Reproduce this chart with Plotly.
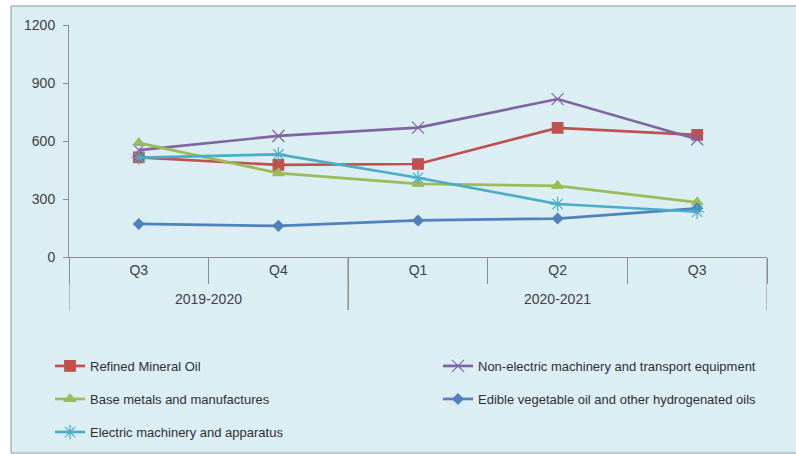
import plotly.graph_objects as go

years = ["2019-2020", "2019-2020", "2020-2021", "2020-2021", "2020-2021"]
quarters = ["Q3", "Q4", "Q1", "Q2", "Q3"]

refined_mineral_oil = [515, 476, 481, 668, 632]
non_electric_machinery = [553, 626, 669, 817, 609]
base_metals = [590, 434, 378, 368, 283]
edible_oil = [171, 161, 189, 199, 252]
electric_machinery = [514, 531, 410, 274, 234]

series = [
    ("Refined Mineral Oil", refined_mineral_oil, "#C0504D", "square", 10.5),
    ("Non-electric machinery and transport equipment", non_electric_machinery, "#8064A2", "x-thin-open", 12),
    ("Base metals and manufactures", base_metals, "#9BBB59", "triangle-up", 10),
    ("Edible vegetable oil and other hydrogenated oils", edible_oil, "#4F81BD", "diamond", 8),
    ("Electric machinery and apparatus", electric_machinery, "#4BACC6", "asterisk-open", 12),
]

legend_pos = [(50, 366), (438, 366), (50, 399), (438, 399), (50, 432)]

# unique category keys for each period
cats = [f"{y} {q}" for y, q in zip(years, quarters)]

bg = "#DBEEF4"
axis_col = "#8C8C8C"
fig = go.Figure()
for i, (name, vals, color, sym, size) in enumerate(series):
    lg = "legend" if i == 0 else f"legend{i+1}"
    fig.add_trace(go.Scatter(
        x=cats, y=vals, name=name, mode="lines+markers",
        line=dict(color=color, width=2.7),
        marker=dict(symbol=sym, size=size, color=color,
                    line=dict(color=color, width=1.2)),
        legend=lg, showlegend=True,
    ))

layout_legends = {}
for i, (px, py) in enumerate(legend_pos):
    key = "legend" if i == 0 else f"legend{i+1}"
    layout_legends[key] = dict(
        xref="container", yref="container", x=px / 796, y=1 - py / 454,
        xanchor="left", yanchor="middle", bgcolor="rgba(0,0,0,0)",
        font=dict(family="Liberation Sans, Arial", size=13, color="#303030"),
        itemwidth=30,
    )

# year group labels and group dividers
groups = []
for idx, y in enumerate(years):
    if not groups or groups[-1][0] != y:
        groups.append([y, idx, idx])
    else:
        groups[-1][2] = idx

annotations = []
shapes = [dict(
    type="rect", xref="paper", yref="paper",
    x0=(11 - 69) / 698, x1=(805 - 69) / 698,
    y0=-(453 - 257) / 232, y1=1 + (25 - 6) / 232,
    fillcolor=bg, line=dict(color="#8C9CA3", width=1), layer="below",
)]
group_y = -(299 - 257) / 232
div_y = -(310 - 257) / 232
for name, a, b in groups:
    annotations.append(dict(
        x=(a + b) / 2, y=group_y, xref="x", yref="paper", text=name,
        showarrow=False, font=dict(family="Liberation Sans, Arial", size=14, color="#404040"),
        xanchor="center", yanchor="middle",
    ))
    for bound in (a - 0.5, b + 0.5):
        shapes.append(dict(
            type="line", xref="x", yref="paper", x0=bound, x1=bound,
            y0=0, y1=div_y, line=dict(color=axis_col, width=1),
        ))

fig.update_layout(
    width=796, height=454,
    margin=dict(l=69, r=29, t=25, b=197, autoexpand=False),
    paper_bgcolor="white", plot_bgcolor=bg, showlegend=True,
    font=dict(family="Liberation Sans, Arial", size=14, color="#404040"),
    xaxis=dict(
        type="category", showline=True, linecolor=axis_col, linewidth=1,
        tickvals=cats, ticktext=quarters, tickson="boundaries",
        ticks="outside", ticklen=26, tickcolor=axis_col,
        showgrid=False, zeroline=False, tickangle=0,
        tickfont=dict(size=14, color="#404040"),
        range=[-0.5, len(cats) - 0.5],
    ),
    yaxis=dict(
        range=[0, 1200], tickvals=[0, 300, 600, 900, 1200],
        showline=True, linecolor=axis_col, linewidth=1,
        ticks="outside", ticklen=5, tickcolor=axis_col,
        ticklabelstandoff=5,
        showgrid=False, zeroline=False,
        tickfont=dict(size=14, color="#404040"),
    ),
    shapes=shapes,
    annotations=annotations,
    **layout_legends,
)

fig.write_html("out.html")
